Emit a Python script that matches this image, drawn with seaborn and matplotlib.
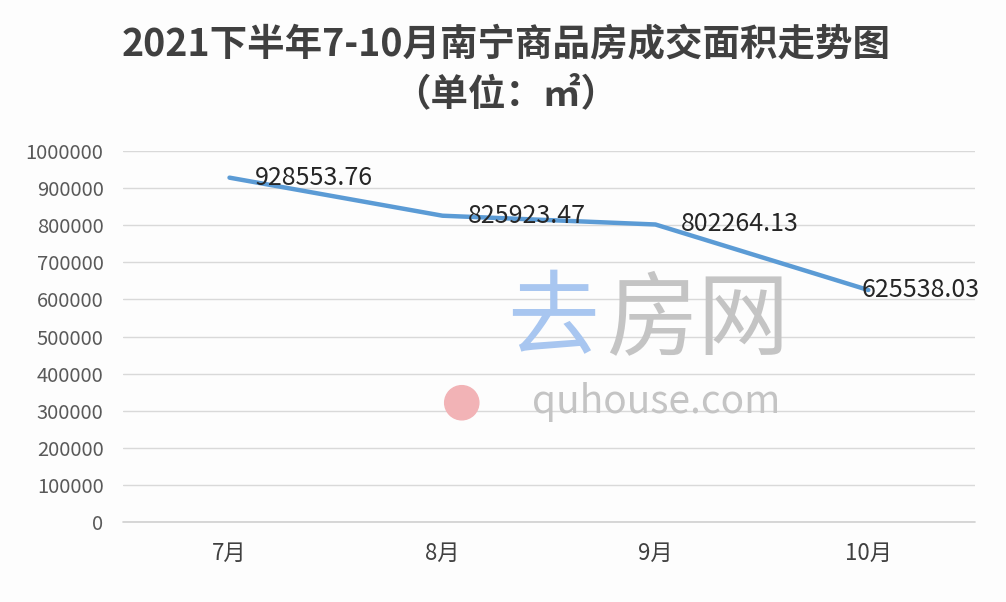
import matplotlib
matplotlib.use("Agg")
import matplotlib.pyplot as plt
from matplotlib.patches import Ellipse
import seaborn as sns
import pandas as pd

months = ["7月", "8月", "9月", "10月"]
area = [928553.76, 825923.47, 802264.13, 625538.03]
y_ticks = list(range(0, 1000001, 100000))

sns.set_theme(style="white")
plt.rcParams["font.family"] = ["Noto Sans CJK SC", "DejaVu Sans"]

df = pd.DataFrame({"month": months, "area": area})

fig = plt.figure(figsize=(10.06, 6.02), dpi=100, facecolor="#fdfdfd")
ax = fig.add_axes([0.1223, 0.1329, 0.8467, 0.616])
ax.set_facecolor("#fdfdfd")

# watermark
fig.text(0.55, 0.467, "去", fontsize=66, color="#a8c6f0", ha="center", va="center", zorder=0)
fig.text(0.694, 0.467, "房网", fontsize=66, color="#c4c4c4", ha="center", va="center", zorder=0)
fig.text(0.652, 0.333, "quhouse.com", fontsize=28, color="#c4c4c4", ha="center", va="center", zorder=0)
fig.patches.append(Ellipse((0.459, 0.331), 0.034, 0.034 * 1006 / 602, transform=fig.transFigure,
                           color="#f2b3b6", zorder=0))

sns.lineplot(data=df, x="month", y="area", color="#5b9bd5", linewidth=3.2, sort=False, ax=ax)

for i, v in enumerate(area):
    ax.annotate(f"{v:.2f}", (i, v), xytext=(18 if i < 3 else -5, 0), textcoords="offset points",
                ha="left", va="center", fontsize=18, color="#262626")

ax.set_xlim(-0.5, 3.5)
ax.set_ylim(0, 1000000)
ax.set_yticks(y_ticks)
ax.set_yticklabels([str(t) for t in y_ticks], fontsize=14.5, color="#595959")
ax.tick_params(axis="x", labelsize=16, colors="#404040", length=0, pad=14)
ax.tick_params(axis="y", length=0, pad=14)
ax.grid(axis="y", color="#d9d9d9", linewidth=1)
ax.axhline(0, color="#d0d0d0", linewidth=1.2, clip_on=False, zorder=1)
ax.set_axisbelow(True)
for s in ax.spines.values():
    s.set_visible(False)
ax.set_xlabel("")
ax.set_ylabel("")

fig.text(0.503, 0.925, "2021下半年7-10月南宁商品房成交面积走势图", fontsize=27, fontweight="bold",
         color="#404040", ha="center", va="center")
fig.text(0.503, 0.845, "（单位：㎡）", fontsize=27, fontweight="bold",
         color="#404040", ha="center", va="center")

fig.savefig("out.png", dpi=100, facecolor=fig.get_facecolor())
